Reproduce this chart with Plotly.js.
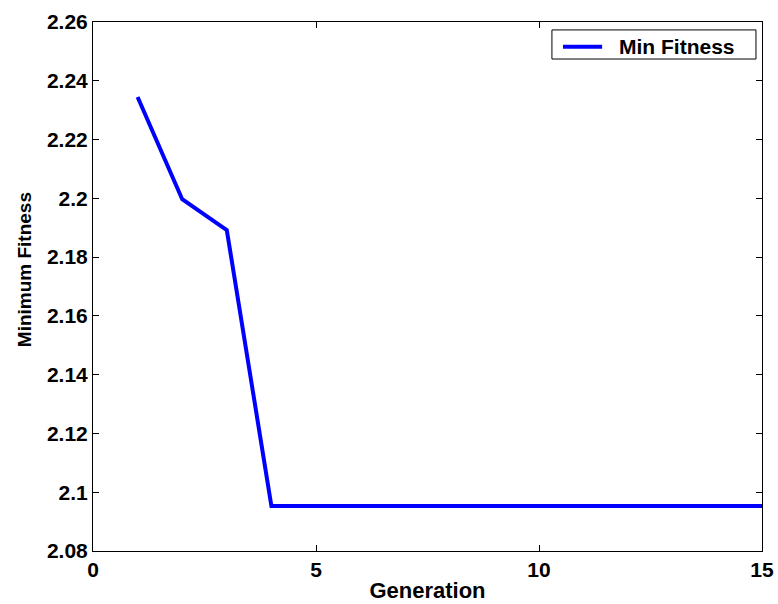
<!DOCTYPE html>
<html>
<head>
<meta charset="utf-8">
<script src="https://cdn.plot.ly/plotly-3.0.1.min.js"></script>
<style>html,body{margin:0;padding:0;background:#fff;}#chart{width:778px;height:604px;}</style>
</head>
<body>
<div id="chart"></div>
<script>
const generation = [1, 2, 3, 4, 5, 6, 7, 8, 9, 10, 11, 12, 13, 14, 15];
const minFitness = [2.2345, 2.1997, 2.1892, 2.0953, 2.0953, 2.0953, 2.0953, 2.0953, 2.0953, 2.0953, 2.0953, 2.0953, 2.0953, 2.0953, 2.0953];
const xTickVals = [0, 5, 10, 15];
const xTickText = ['0', '5', '10', '15'];
const yTickVals = [2.08, 2.1, 2.12, 2.14, 2.16, 2.18, 2.2, 2.22, 2.24, 2.26];
const yTickText = ['2.08', '2.1', '2.12', '2.14', '2.16', '2.18', '2.2', '2.22', '2.24', '2.26'];
const seriesName = 'Min Fitness';
const xTitle = 'Generation';
const yTitle = 'Minimum Fitness';

const FONT = 'Liberation Sans, Arial, Helvetica, sans-serif';
const BLUE = '#0000ff';

const trace = {
  x: generation,
  y: minFitness,
  type: 'scatter',
  mode: 'lines',
  name: seriesName,
  line: {color: BLUE, width: 4},
  showlegend: false
};

const axisCommon = {
  showline: true,
  linecolor: '#000',
  linewidth: 1,
  mirror: 'allticks',
  ticks: 'inside',
  ticklen: 6,
  tickwidth: 1,
  tickcolor: '#000',
  showgrid: false,
  zeroline: false,
  tickfont: {family: FONT, size: 21, color: '#000', weight: 'bold'}
};

// legend box (drawn in paper coordinates)
const lg = {x0: 0.686, x1: 0.991, y0: 0.930, y1: 0.985, lx0: 0.7025, lx1: 0.761, ly: 0.9533, tx: 0.783};

const layout = {
  width: 778,
  height: 604,
  margin: {l: 93, r: 16, t: 22, b: 53},
  paper_bgcolor: '#fff',
  plot_bgcolor: '#fff',
  showlegend: false,
  xaxis: Object.assign({}, axisCommon, {
    range: [0, 15],
    tickmode: 'array',
    tickvals: xTickVals,
    ticktext: xTickText,
    title: {text: xTitle, font: {family: FONT, size: 22, color: '#000', weight: 'bold'}, standoff: 2}
  }),
  yaxis: Object.assign({}, axisCommon, {
    range: [2.08, 2.26],
    tickmode: 'array',
    tickvals: yTickVals,
    ticktext: yTickText
  }),
  shapes: [
    {type: 'rect', xref: 'paper', yref: 'paper', x0: lg.x0, x1: lg.x1, y0: lg.y0, y1: lg.y1,
     line: {color: '#000', width: 1}, fillcolor: '#fff', layer: 'above'},
    {type: 'line', xref: 'paper', yref: 'paper', x0: lg.lx0, x1: lg.lx1, y0: lg.ly, y1: lg.ly,
     line: {color: BLUE, width: 4}, layer: 'above'}
  ],
  annotations: [
    {xref: 'paper', yref: 'paper', x: lg.tx, y: lg.ly, xanchor: 'left', yanchor: 'middle',
     text: seriesName, showarrow: false,
     font: {family: FONT, size: 21, color: '#000', weight: 'bold'}},
    {xref: 'paper', yref: 'paper', x: -0.103, y: 0.531, xanchor: 'center', yanchor: 'middle',
     text: yTitle, textangle: -90, showarrow: false,
     font: {family: FONT, size: 19, color: '#000', weight: 'bold'}}
  ]
};

Plotly.newPlot('chart', [trace], layout, {displayModeBar: false, staticPlot: true});
</script>
</body>
</html>
